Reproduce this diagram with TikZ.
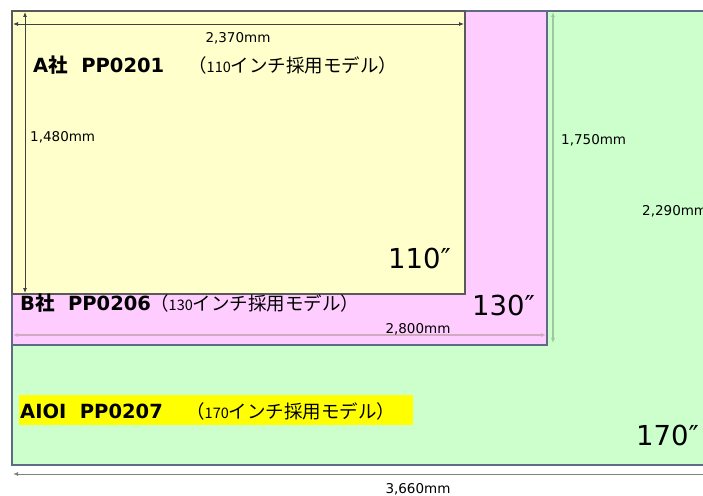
\documentclass[tikz,border=0pt]{standalone}
\usepackage{fontspec}
\setmainfont{DejaVu Sans}
\newfontfamily\jpfont{Noto Sans CJK JP}
\usetikzlibrary{arrows.meta}
\definecolor{edgeblue}{HTML}{5E6B86}
\definecolor{sheetyellow}{HTML}{FFFFCC}
\definecolor{sheetpink}{HTML}{FFCCFF}
\definecolor{sheetgreen}{HTML}{CCFFCC}
\definecolor{marker}{HTML}{FFFF00}
\tikzset{
	screen/.style={draw=edgeblue, line width=1.3pt},
	dimline/.style={line width=0.8pt, {Latex[length=5pt,width=4pt]}-{Latex[length=5pt,width=4pt]}},
	dimtext/.style={font=\fontsize{13.5}{13.5}\selectfont, inner sep=0pt},
	inch/.style={font=\fontsize{27.5}{27.5}\selectfont, inner sep=0pt, anchor=base east},
	model/.style={font=\fontsize{19.5}{19.5}\selectfont\bfseries, inner sep=0pt, anchor=base west},
	usage/.style={font=\jpfont\fontsize{18.5}{18.5}\selectfont, inner sep=0pt, anchor=base west}
}
\newcommand{\myDim}[4]{
\draw[dimline, #3] (#1) -- (#2) node[pos=0.5, coordinate] (#4) {};
}
\newcommand{\myNum}[1]{{\fontsize{14.5}{12}\selectfont #1}}

\begin{document}
\begin{tikzpicture}[x=1pt, y=-1pt]
	\useasboundingbox (0,0) rectangle (703,495);
	\clip (0,0) rectangle (703,495);
	\coordinate (O) at (12,11);
	\coordinate (Y) at (465,294);
	\coordinate (P) at (547,345);
	\coordinate (G) at (730,465);

	\draw[screen, fill=sheetgreen] (O) rectangle (G);
	\draw[screen, fill=sheetpink] (O) rectangle (P);
	\draw[screen, draw=gray!70!black, fill=sheetyellow] (O) rectangle (Y);

	% dimension lines
	\coordinate (w1a) at (13,24);   \coordinate (w1b) at (464,24);
	\coordinate (h1a) at (25,12);   \coordinate (h1b) at (25,293);
	\coordinate (w2a) at (13,335);  \coordinate (w2b) at (546,335);
	\coordinate (h2a) at (553,12);  \coordinate (h2b) at (553,343);
	\coordinate (w3a) at (13,474);  \coordinate (w3b) at (760,474);
	\myDim{w1a}{w1b}{gray!50!black}{w1}
	\myDim{h1a}{h1b}{gray!50!black}{h1}
	\myDim{w2a}{w2b}{gray!70!magenta!60!white, line width=1.3pt}{w2}
	\myDim{h2a}{h2b}{gray!70!green!60!white, line width=2pt}{h2}
	\myDim{w3a}{w3b}{gray, line width=1pt}{w3}

	\node[dimtext] (t2370) at (238,38) {2,370mm};
	\node[dimtext, anchor=west] (t1480) at (30,137) {1,480mm};
	\node[dimtext] (t2800) at (418,329) {2,800mm};
	\node[dimtext, anchor=west] (t1750) at (561,140) {1,750mm};
	\node[dimtext, anchor=west] (t2290) at (642,211) {2,290mm};
	\node[dimtext] (t3660) at (418,489) {3,660mm};

	% model names
	\node[model] (nameA) at (33,72) {A{\jpfont 社}\ \ PP0201};
	\node[usage] (useA) at (188,72) {（\myNum{110}インチ採用モデル）};
	\node[model] (nameB) at (20,310) {B{\jpfont 社}\ \ PP0206};
	\node[usage] (useB) at (150,310) {（\myNum{130}インチ採用モデル）};
	\fill[marker] (19,395) rectangle (413,425);
	\node[model] (nameC) at (20,418) {AIOI\ \ PP0207};
	\node[usage] (useC) at (186,418) {（\myNum{170}インチ採用モデル）};

	\node[inch] (i110) at (451,268) {110″};
	\node[inch] (i130) at (535,315) {130″};
	\node[inch] (i170) at (699,445) {170″};
\end{tikzpicture}
\end{document}
